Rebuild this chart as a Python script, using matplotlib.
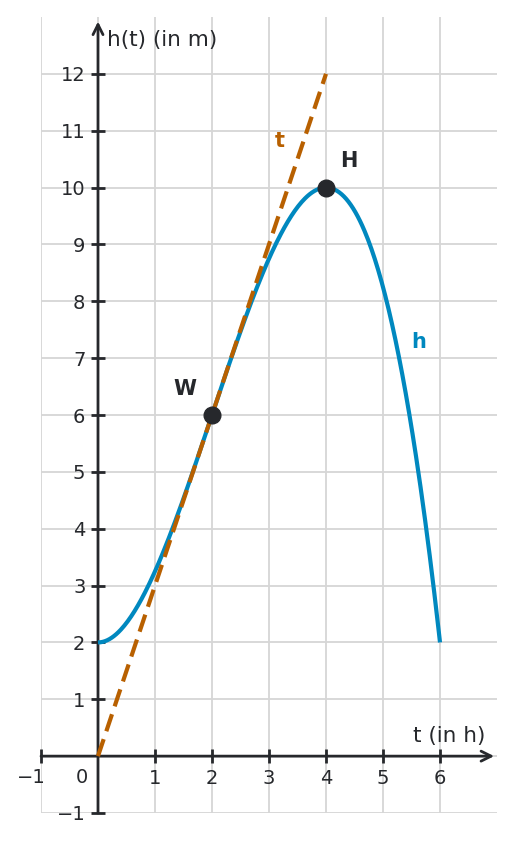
import numpy as np
import matplotlib
matplotlib.use("Agg")
import matplotlib.pyplot as plt

# height function h(t) = -0.25 t^3 + 1.5 t^2 + 2
h_coeffs = [-0.25, 1.5, 0.0, 2.0]
t_start, t_end = 0, 6

# tangent at the inflection point W
tan_t = [0, 4]
tan_h = [0, 12]

# marked points
point_names = ["W", "H"]
point_t = [2, 4]
point_h = [6, 10]

x_ticks = [-1, 1, 2, 3, 4, 5, 6]
y_ticks = [-1, 1, 2, 3, 4, 5, 6, 7, 8, 9, 10, 11, 12]

blue = "#0088bf"
orange = "#b86000"
dark = "#26282c"

fig = plt.figure(figsize=(5.14, 8.42), dpi=100)
ax = fig.add_axes([41 / 514, 29 / 842, 456 / 514, 796 / 842])
ax.set_xlim(-1, 7)
ax.set_ylim(-1, 13)

# grid
for x in range(-1, 7):
    ax.axvline(x, color="#d6d6d6", lw=1.3, zorder=0)
for y in range(-1, 13):
    ax.axhline(y, color="#d6d6d6", lw=1.3, zorder=0)

# axes through the origin
for s in ["top", "right"]:
    ax.spines[s].set_visible(False)
ax.spines["left"].set_position(("data", 0))
ax.spines["bottom"].set_position(("data", 0))
ax.spines["left"].set_color("none")
ax.spines["bottom"].set_color("none")
ax.annotate("", xy=(6.95, 0), xytext=(-1, 0),
            arrowprops=dict(arrowstyle="->", color=dark, lw=2, mutation_scale=18,
                            shrinkA=0, shrinkB=0), zorder=2)
ax.annotate("", xy=(0, 12.92), xytext=(0, -1),
            arrowprops=dict(arrowstyle="->", color=dark, lw=2, mutation_scale=18,
                            shrinkA=0, shrinkB=0), zorder=2)

ax.set_xticks(x_ticks)
ax.set_yticks(y_ticks)
ax.set_xticklabels(["" if v < 0 else str(v) for v in x_ticks])
ax.set_yticklabels(["\u2212" + str(-v) if v < 0 else str(v) for v in y_ticks])
ax.tick_params(direction="inout", length=10, width=2, color=dark,
               labelsize=14, labelcolor=dark, pad=4)
ax.text(-0.92, -0.2, "\u22121", fontsize=14, color=dark, ha="right", va="top")
ax.text(-0.28, -0.2, "0", fontsize=14, color=dark, ha="center", va="top")

ax.text(0.15, 12.6, "h(t) (in m)", fontsize=15.5, color=dark, ha="left", va="center")
ax.text(6.8, 0.36, "t (in h)", fontsize=15.5, color=dark, ha="right", va="center")

# curve and tangent
t = np.linspace(t_start, t_end, 300)
ax.plot(t, np.polyval(h_coeffs, t), color=blue, lw=3, zorder=3,
        solid_capstyle="butt")
ax.plot(tan_t, tan_h, color=orange, lw=3, ls=(0, (4.3, 2)), zorder=4)
ax.plot(point_t, point_h, "o", color=dark, ms=12, zorder=5)

ax.text(1.53, 6.46, "W", fontsize=15, fontweight="bold", color=dark,
        ha="center", va="center")
ax.text(4.4, 10.46, "H", fontsize=15, fontweight="bold", color=dark,
        ha="center", va="center")
ax.text(3.19, 10.82, "t", fontsize=15, fontweight="bold", color=orange,
        ha="center", va="center")
ax.text(5.63, 7.28, "h", fontsize=15, fontweight="bold", color=blue,
        ha="center", va="center")

fig.savefig("out.png", dpi=100)
